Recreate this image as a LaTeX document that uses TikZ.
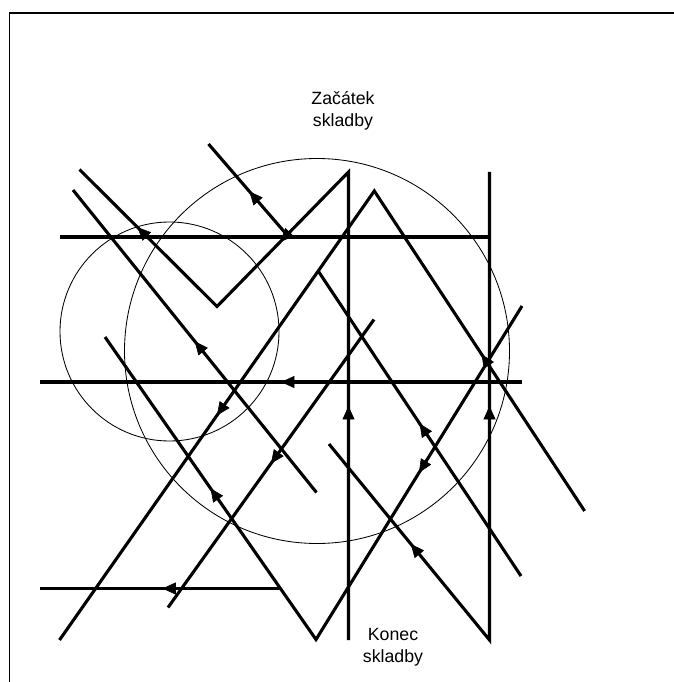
\documentclass[tikz,border=0pt]{standalone}
\usepackage{fontspec}
\setmainfont{Liberation Sans}
\usetikzlibrary{arrows.meta, decorations.markings}

\begin{document}
\begin{tikzpicture}[
  x=0.025cm, y=-0.025cm,
  track/.style={line width=2.2pt},
  ring/.style={line width=0.6pt},
  tipat/.style={postaction={decorate, decoration={markings, mark=at position #1 with {\arrow{Triangle[length=9.5pt, width=8.5pt]}}}}},
  caption/.style={align=center, font=\fontsize{12.6}{15.4}\selectfont}
]
\useasboundingbox (0,0) rectangle (674,682);
% frame
\draw[line width=0.9pt] (674,13) -- (9.5,13) -- (9.5,682);

% corner and end points of the tracks
\coordinate (h1l) at (60,237);    \coordinate (h1r) at (489.5,237);
\coordinate (h2l) at (40,382);    \coordinate (h2r) at (522,382);
\coordinate (h3l) at (40,588.5);  \coordinate (h3r) at (280,588.5);
\coordinate (v1t) at (348.5,172); \coordinate (v1b) at (348.5,640);
\coordinate (v2t) at (489.5,172); \coordinate (v2b) at (489.5,640);
\coordinate (m1) at (79.5,169.5); \coordinate (m2) at (217,306.5);
\coordinate (d2t) at (208.5,144); \coordinate (d2b) at (287,235);
\coordinate (d3t) at (73,190);    \coordinate (d3b) at (316.5,492.5);
\coordinate (d4t) at (105,337);   \coordinate (w1) at (316,639.5);
\coordinate (d5t) at (522,306);
\coordinate (pkl) at (59.5,640);  \coordinate (pk) at (374.3,191);
\coordinate (pkr) at (584.6,511);
\coordinate (d6t) at (318.2,271); \coordinate (d6b) at (521,576);
\coordinate (d7b) at (168,607.5); \coordinate (d7t) at (374,319.5);
\coordinate (d8t) at (329,444);

% circles
\draw[ring] (169.5,331.5) circle[radius=109.5];
\draw[ring] (317,351) circle[radius=192.5];

% tracks
\draw[track] (h1l) -- (h1r);
\draw[track] (h2l) -- (h2r);
\draw[track] (h3l) -- (h3r);
\draw[track] (m1) -- (m2) -- (v1t) -- (v1b);
\draw[track] (d8t) -- (v2b) -- (v2t);
\draw[track] (d2t) -- (d2b);
\draw[track] (d3t) -- (d3b);
\draw[track] (d4t) -- (w1) -- (d5t);
\draw[track] (pkl) -- (pk) -- (pkr);
\draw[track] (d6t) -- (d6b);
\draw[track] (d7b) -- (d7t);

% direction arrows
\foreach \a/\b/\p in {h2r/h2l/0.5, v1b/v1t/0.5, v2b/v2t/0.5, h3r/h3l/0.49,
    w1/d4t/0.5, d3b/d3t/0.5, pk/pkl/0.5, d7t/d7b/0.5, d6b/d6t/0.5,
    d5t/w1/0.5, v2b/d8t/0.49, d2b/d2t/0.48, m2/m1/0.58, v1t/m2/0.52,
    pkr/pk/0.49} {
  \path[tipat=\p] (\a) -- (\b);
}

% labels
\node[caption] (start) at (343,111) {Začátek\\skladby};
\node[caption] (end) at (393,647) {Konec\\skladby};
\end{tikzpicture}
\end{document}
